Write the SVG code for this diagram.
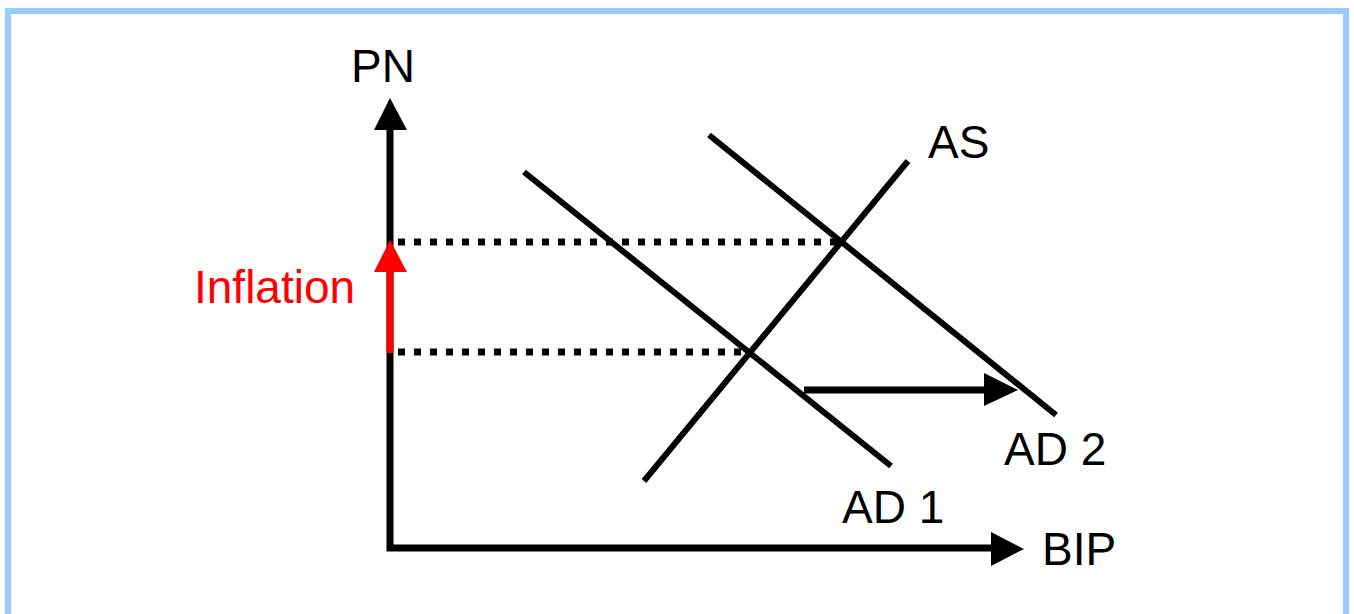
<svg xmlns="http://www.w3.org/2000/svg" width="1354" height="614" viewBox="0 0 1354 614">
<style>
.t{font-family:"Liberation Sans",Arial,sans-serif;font-size:46px;fill:#000}
.ln{stroke:#000;stroke-width:6;fill:none}
.dot{stroke:#000;stroke-width:7;stroke-dasharray:7 9;fill:none}
</style>
<rect x="0" y="0" width="1354" height="614" fill="#fff"/>
<rect x="8" y="11" width="1338" height="620" fill="none" stroke="#99CCFF" stroke-width="6"/>
<g id="connectors">
<line class="dot" x1="398" y1="242" x2="840" y2="242"/>
<line class="dot" x1="398" y1="352" x2="750" y2="352"/>
<line class="ln" x1="524" y1="172" x2="891" y2="466"/>
<line class="ln" x1="709" y1="135" x2="1056" y2="415"/>
<line class="ln" x1="644" y1="481" x2="908" y2="161"/>
<line stroke="#000" stroke-width="7" x1="804" y1="390" x2="986" y2="390"/>
<polygon points="984,373 1018,390 984,406" fill="#000"/>
<polyline points="390,128 390,548 994,548" fill="none" stroke="#000" stroke-width="7"/>
<polygon points="374,130 390,98 407,130" fill="#000"/>
<polygon points="991,532 1024,549 991,566" fill="#000"/>
<line stroke="#FF0000" stroke-width="7" x1="390" y1="353" x2="390" y2="270"/>
<polygon points="374,272 390,240 407,272" fill="#FF0000"/>
</g>
<g id="label-pn"><text class="t" x="351" y="82">PN</text></g>
<g id="label-bip"><text class="t" x="1042" y="565">BIP</text></g>
<g id="label-as"><text class="t" x="928" y="158">AS</text></g>
<g id="label-ad2"><text class="t" x="1004" y="465">AD 2</text></g>
<g id="label-ad1"><text class="t" x="842" y="523">AD 1</text></g>
<g id="label-inflation"><text class="t" x="194" y="303" style="fill:#FF0000">Inflation</text></g>
</svg>
